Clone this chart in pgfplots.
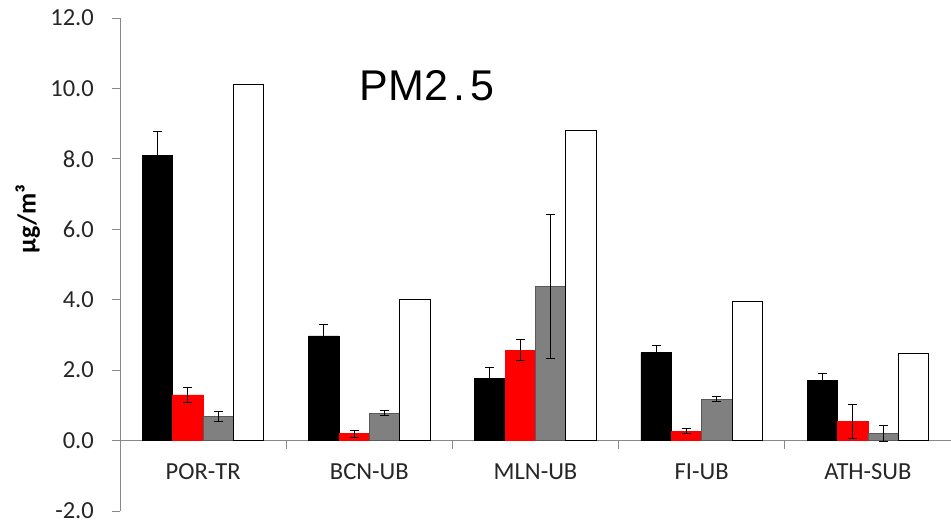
\documentclass[border=0pt]{standalone}
\usepackage{fontspec}
\setmainfont{Carlito}
\newfontfamily\titlefont{Liberation Sans}
\usepackage{pgfplots}
\pgfplotsset{compat=1.18}
\definecolor{axgray}{HTML}{888888}
\definecolor{bargray}{HTML}{808080}
\definecolor{txt}{HTML}{262626}
\begin{document}
\begin{tikzpicture}
\begin{axis}[
  scale only axis, width=831pt, height=493pt,
  xmin=-0.5, xmax=4.5, ymin=-2, ymax=12,
  ybar=0pt, bar width=0.183,
  axis x line=middle, axis y line=left,
  axis line style={-, draw=axgray, line width=0.9pt},
  hide obscured x ticks=false, hide obscured y ticks=false,
  xtick={-0.5,0.5,1.5,2.5,3.5,4.5},
  x tick label as interval,
  xticklabels={POR-TR,BCN-UB,MLN-UB,FI-UB,ATH-SUB},
  ytick={-2,0,2,4,6,8,10,12},
  yticklabels={-2.0,0.0,2.0,4.0,6.0,8.0,10.0,12.0},
  tick align=outside, major tick length=8pt,
  tick style={draw=axgray, line width=0.9pt},
  tick label style={font=\fontsize{24.5}{28}\selectfont, text=txt},
  xticklabel style={yshift=-12pt},
  yticklabel style={inner sep=0pt, xshift=-18pt},
  ylabel={\bfseries µg/m³},
  ylabel style={font=\fontsize{26}{30}\selectfont, text=black, at={(axis description cs:-0.111,0.593)}, anchor=center, rotate=0},
  clip=false,
]
\addplot[fill=black, draw=black,
  error bars/.cd, y dir=both, y explicit,
  error bar style={black, line width=1pt},
  error mark options={black, line width=1pt, mark size=4.5pt, rotate=90}]
  coordinates {(0,8.1) +- (0,0.68) (1,2.97) +- (0,0.34) (2,1.77) +- (0,0.31) (3,2.5) +- (0,0.2) (4,1.7) +- (0,0.2)};
\addplot[fill=red, draw=red,
  error bars/.cd, y dir=both, y explicit,
  error bar style={black, line width=1pt},
  error mark options={black, line width=1pt, mark size=4.5pt, rotate=90}]
  coordinates {(0,1.3) +- (0,0.21) (1,0.2) +- (0,0.1) (2,2.57) +- (0,0.31) (3,0.27) +- (0,0.06) (4,0.55) +- (0,0.48)};
\addplot[fill=bargray, draw=black!65,
  error bars/.cd, y dir=both, y explicit,
  error bar style={black, line width=1pt},
  error mark options={black, line width=1pt, mark size=4.5pt, rotate=90}]
  coordinates {(0,0.68) +- (0,0.14) (1,0.78) +- (0,0.08) (2,4.38) +- (0,2.05) (3,1.18) +- (0,0.08) (4,0.2) +- (0,0.23)};
\addplot[fill=white, draw=black, line width=1pt]
  coordinates {(0,10.1) (1,4.0) (2,8.8) (3,3.96) (4,2.47)};
\node[font=\titlefont\fontsize{43}{50}\selectfont, text=black] at (axis cs:1.347,10.08) {PM2\hspace{5pt}.\hspace{5pt}5};
\end{axis}
\pgfresetboundingbox
\useasboundingbox (current axis.south west) ++(-120pt,-15pt) rectangle ++(951pt,526pt);
\end{tikzpicture}
\end{document}
